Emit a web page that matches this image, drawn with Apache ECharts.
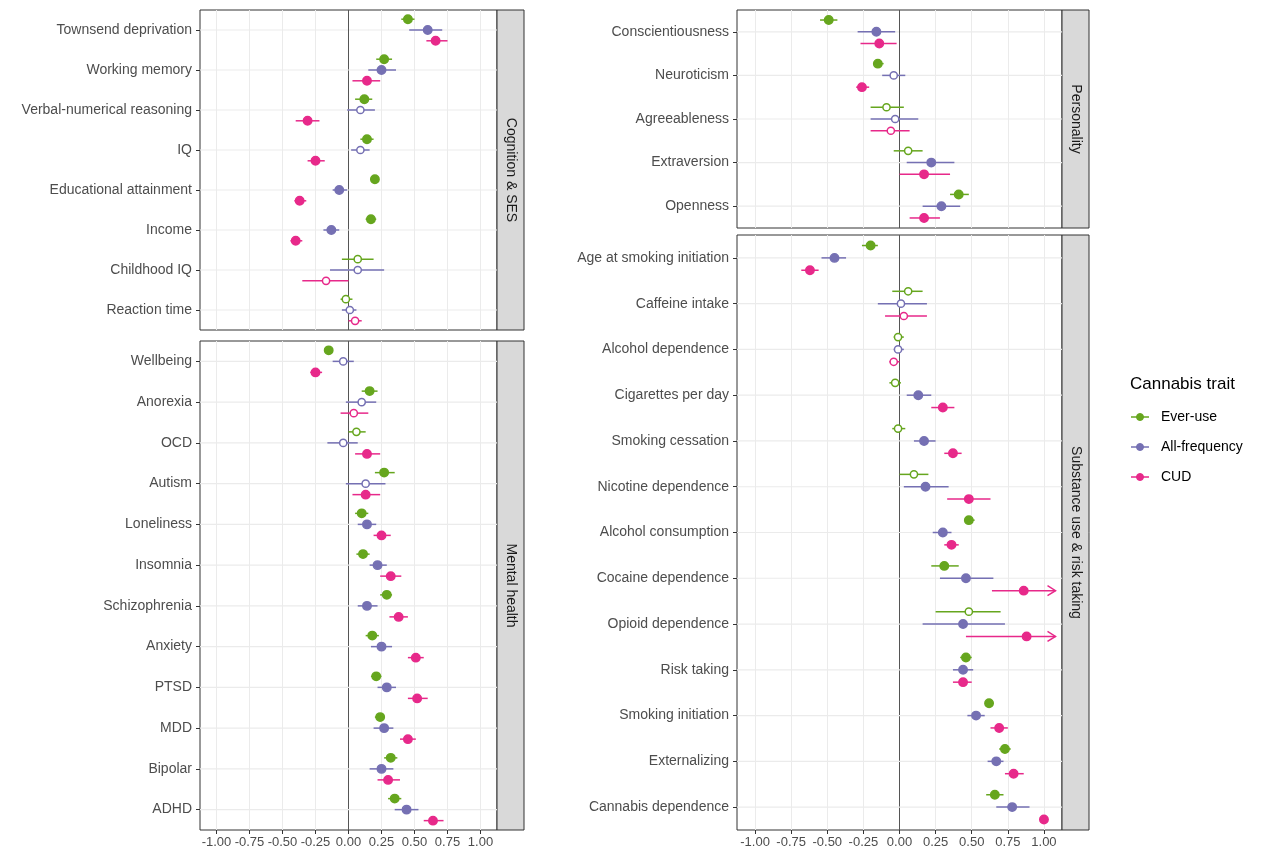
<!DOCTYPE html>
<html><head><meta charset="utf-8">
<script src="https://cdn.jsdelivr.net/npm/echarts@6/dist/echarts.min.js"></script>
<style>html,body{margin:0;background:#fff}#c{width:1280px;height:865px}</style>
</head><body><div id="c"></div>
<script>
// Forest plot: cannabis traits vs. other phenotypes. Rows: [est, lo, hi, significant]
const TRAITS = ['Ever-use', 'All-frequency', 'CUD']
const COLORS = ['#66A61E', '#7570B3', '#E7298A']

const cogCats = ['Townsend deprivation', 'Working memory', 'Verbal-numerical reasoning', 'IQ', 'Educational attainment', 'Income', 'Childhood IQ', 'Reaction time']
const cogEver = [[0.45,0.40,0.50,1],[0.27,0.21,0.33,1],[0.12,0.05,0.18,1],[0.14,0.09,0.19,1],[0.20,0.17,0.23,1],[0.17,0.13,0.21,1],[0.07,-0.05,0.19,0],[-0.02,-0.06,0.03,0]]
const cogFreq = [[0.60,0.46,0.71,1],[0.25,0.15,0.36,1],[0.09,-0.01,0.20,0],[0.09,0.02,0.16,0],[-0.07,-0.12,-0.01,1],[-0.13,-0.19,-0.07,1],[0.07,-0.14,0.27,0],[0.01,-0.05,0.06,0]]
const cogCud  = [[0.66,0.59,0.75,1],[0.14,0.03,0.24,1],[-0.31,-0.40,-0.22,1],[-0.25,-0.31,-0.18,1],[-0.37,-0.41,-0.32,1],[-0.40,-0.44,-0.35,1],[-0.17,-0.35,0.00,0],[0.05,0.00,0.10,0]]

const mhCats = ['Wellbeing', 'Anorexia', 'OCD', 'Autism', 'Loneliness', 'Insomnia', 'Schizophrenia', 'Anxiety', 'PTSD', 'MDD', 'Bipolar', 'ADHD']
const mhEver = [[-0.15,-0.18,-0.12,1],[0.16,0.10,0.22,1],[0.06,0.00,0.13,0],[0.27,0.20,0.35,1],[0.10,0.05,0.15,1],[0.11,0.06,0.16,1],[0.29,0.24,0.33,1],[0.18,0.13,0.23,1],[0.21,0.17,0.25,1],[0.24,0.20,0.27,1],[0.32,0.27,0.37,1],[0.35,0.30,0.40,1]]
const mhFreq = [[-0.04,-0.12,0.04,0],[0.10,-0.02,0.21,0],[-0.04,-0.16,0.07,0],[0.13,-0.02,0.28,0],[0.14,0.07,0.21,1],[0.22,0.16,0.29,1],[0.14,0.07,0.22,1],[0.25,0.17,0.33,1],[0.29,0.22,0.36,1],[0.27,0.19,0.34,1],[0.25,0.16,0.34,1],[0.44,0.35,0.53,1]]
const mhCud  = [[-0.25,-0.29,-0.20,1],[0.04,-0.06,0.15,0],[0.14,0.05,0.24,1],[0.13,0.03,0.24,1],[0.25,0.19,0.32,1],[0.32,0.24,0.40,1],[0.38,0.31,0.45,1],[0.51,0.45,0.57,1],[0.52,0.45,0.60,1],[0.45,0.39,0.51,1],[0.30,0.22,0.39,1],[0.64,0.57,0.72,1]]

const perCats = ['Conscientiousness', 'Neuroticism', 'Agreeableness', 'Extraversion', 'Openness']
const perEver = [[-0.49,-0.55,-0.43,1],[-0.15,-0.18,-0.11,1],[-0.09,-0.20,0.03,0],[0.06,-0.04,0.16,0],[0.41,0.35,0.48,1]]
const perFreq = [[-0.16,-0.29,-0.03,1],[-0.04,-0.12,0.04,0],[-0.03,-0.20,0.13,0],[0.22,0.05,0.38,1],[0.29,0.16,0.42,1]]
const perCud  = [[-0.14,-0.27,-0.02,1],[-0.26,-0.30,-0.21,1],[-0.06,-0.20,0.07,0],[0.17,0.00,0.35,1],[0.17,0.07,0.28,1]]

const subCats = ['Age at smoking initiation', 'Caffeine intake', 'Alcohol dependence', 'Cigarettes per day', 'Smoking cessation', 'Nicotine dependence', 'Alcohol consumption', 'Cocaine dependence', 'Opioid dependence', 'Risk taking', 'Smoking initiation', 'Externalizing', 'Cannabis dependence']
const subEver = [[-0.20,-0.26,-0.15,1],[0.06,-0.05,0.16,0],[-0.01,-0.04,0.03,0],[-0.03,-0.07,0.01,0],[-0.01,-0.05,0.04,0],[0.10,0.00,0.20,0],[0.48,0.45,0.52,1],[0.31,0.22,0.41,1],[0.48,0.25,0.70,0],[0.46,0.42,0.50,1],[0.62,0.60,0.65,1],[0.73,0.69,0.77,1],[0.66,0.60,0.72,1]]
const subFreq = [[-0.45,-0.54,-0.37,1],[0.01,-0.15,0.19,0],[-0.01,-0.04,0.03,0],[0.13,0.05,0.22,1],[0.17,0.10,0.25,1],[0.18,0.03,0.34,1],[0.30,0.23,0.36,1],[0.46,0.28,0.65,1],[0.44,0.16,0.73,1],[0.44,0.37,0.51,1],[0.53,0.47,0.59,1],[0.67,0.61,0.72,1],[0.78,0.67,0.90,1]]
const subCud  = [[-0.62,-0.68,-0.56,1],[0.03,-0.10,0.19,0],[-0.04,-0.07,0.00,0],[0.30,0.22,0.38,1],[0.37,0.31,0.43,1],[0.48,0.33,0.63,1],[0.36,0.31,0.41,1],[0.86,0.64,1.40,1],[0.88,0.46,1.40,1],[0.44,0.37,0.50,1],[0.69,0.63,0.75,1],[0.79,0.73,0.86,1],[1.00,0.98,1.03,1]]

const xTicks = [-1, -0.75, -0.5, -0.25, 0, 0.25, 0.5, 0.75, 1]
const ARROW_AT = 1.08

const panels = [
  { cats: cogCats, rows: [cogEver, cogFreq, cogCud], strip: 'Cognition & SES', grid: { left: 200, top: 10, width: 297, height: 320 }, labels: false },
  { cats: mhCats, rows: [mhEver, mhFreq, mhCud], strip: 'Mental health', grid: { left: 200, top: 341, width: 297, height: 489 }, labels: true },
  { cats: perCats, rows: [perEver, perFreq, perCud], strip: 'Personality', grid: { left: 737, top: 10, width: 325, height: 218 }, labels: false },
  { cats: subCats, rows: [subEver, subFreq, subCud], strip: 'Substance use & risk taking', grid: { left: 737, top: 235, width: 325, height: 595 }, labels: true }
]
const FONT = 'Liberation Sans, Arial, sans-serif'

const grids = [], xAxes = [], yAxes = [], series = [], graphics = []
panels.forEach((p, i) => {
  grids.push(Object.assign({ show: true, borderColor: '#333', borderWidth: 1, backgroundColor: '#fff' }, p.grid))
  xAxes.push({
    gridIndex: i, type: 'value', min: -1.125, max: 1.125, interval: 0.125,
    axisLine: { show: false, onZero: false },
    axisTick: { show: p.labels, customValues: xTicks, length: 4, lineStyle: { color: '#333' } },
    axisLabel: { show: p.labels, customValues: xTicks, formatter: v => v.toFixed(2), color: '#4D4D4D', fontSize: 13, fontFamily: FONT, margin: 6 },
    splitLine: { show: true, lineStyle: { color: '#EBEBEB', width: 1 } }
  })
  yAxes.push({
    gridIndex: i, type: 'category', data: p.cats, inverse: true,
    axisLine: { show: false, onZero: false }, axisTick: { show: true, alignWithLabel: true, length: 4, lineStyle: { color: '#333' } },
    axisLabel: { color: '#4D4D4D', fontSize: 14, fontFamily: FONT, margin: 8 },
    splitLine: { show: false }
  })
  // horizontal grid lines + zero line
  series.push({
    type: 'custom', xAxisIndex: i, yAxisIndex: i, silent: true, z: 1,
    data: p.cats.map((c, k) => [0, k]),
    renderItem: (params, api) => {
      const a = api.coord([-1.125, api.value(1)]), b = api.coord([1.125, api.value(1)])
      const ch = [{ type: 'line', shape: { x1: a[0], y1: a[1], x2: b[0], y2: b[1] }, style: { stroke: '#EBEBEB', lineWidth: 1.2 } }]
      if (params.dataIndex === 0) {
        const x0 = api.coord([0, 0])[0]
        ch.push({ type: 'line', shape: { x1: x0, y1: p.grid.top, x2: x0, y2: p.grid.top + p.grid.height }, style: { stroke: '#555', lineWidth: 1 } })
      }
      return { type: 'group', children: ch }
    }
  })
  TRAITS.forEach((t, j) => {
    const off = (j - 1) * 0.27
    series.push({
      type: 'custom', name: t, xAxisIndex: i, yAxisIndex: i, z: 3, clip: false,
      data: p.rows[j].map((r, k) => [r[0], k, r[1], r[2], r[3]]),
      renderItem: (params, api) => {
        const k = api.value(1), band = api.size([0, 1])[1]
        const c = api.coord([api.value(0), k]), y = c[1] + off * band
        const hiV = Math.min(api.value(3), ARROW_AT)
        const xl = api.coord([api.value(2), k])[0], xh = api.coord([hiV, k])[0]
        const col = COLORS[j]
        const ch = [{ type: 'line', shape: { x1: xl, y1: y, x2: xh, y2: y }, style: { stroke: col, lineWidth: 1.5 } }]
        if (api.value(3) > ARROW_AT) {
          ch.push({ type: 'polyline', shape: { points: [[xh - 8, y - 5], [xh, y], [xh - 8, y + 5]] }, style: { stroke: col, lineWidth: 1.5, fill: null } })
        }
        const sig = api.value(4) === 1
        ch.push({ type: 'circle', shape: { cx: c[0], cy: y, r: sig ? 4.2 : 3.6 }, style: { fill: sig ? col : '#fff', stroke: col, lineWidth: 1.5 } })
        return { type: 'group', children: ch }
      }
    })
  })
  // facet strip
  const sx = p.grid.left + p.grid.width, sw = 27
  graphics.push({ type: 'rect', shape: { x: sx, y: p.grid.top, width: sw, height: p.grid.height }, style: { fill: '#D9D9D9', stroke: '#333', lineWidth: 1 } })
  graphics.push({ type: 'text', x: sx + sw / 2, y: p.grid.top + p.grid.height / 2, rotation: -Math.PI / 2,
    style: { text: p.strip, fill: '#1A1A1A', font: '14px ' + FONT, align: 'center', verticalAlign: 'middle' } })
})

// legend
graphics.push({ type: 'text', x: 1130, y: 384, style: { text: 'Cannabis trait', fill: '#000', font: '17px ' + FONT, verticalAlign: 'middle' } })
TRAITS.forEach((t, j) => {
  const y = 417 + j * 30
  graphics.push({ type: 'line', shape: { x1: 1131, y1: y, x2: 1149, y2: y }, style: { stroke: COLORS[j], lineWidth: 1.5 } })
  graphics.push({ type: 'circle', shape: { cx: 1140, cy: y, r: 3.5 }, style: { fill: COLORS[j], stroke: COLORS[j] } })
  graphics.push({ type: 'text', x: 1161, y: y, style: { text: t, fill: '#000', font: '14px ' + FONT, verticalAlign: 'middle' } })
})

const chart = echarts.init(document.getElementById('c'), null, { renderer: 'canvas' })
chart.setOption({
  animation: false, backgroundColor: '#fff',
  grid: grids, xAxis: xAxes, yAxis: yAxes, series: series,
  graphic: { elements: graphics }
})
</script></body></html>
